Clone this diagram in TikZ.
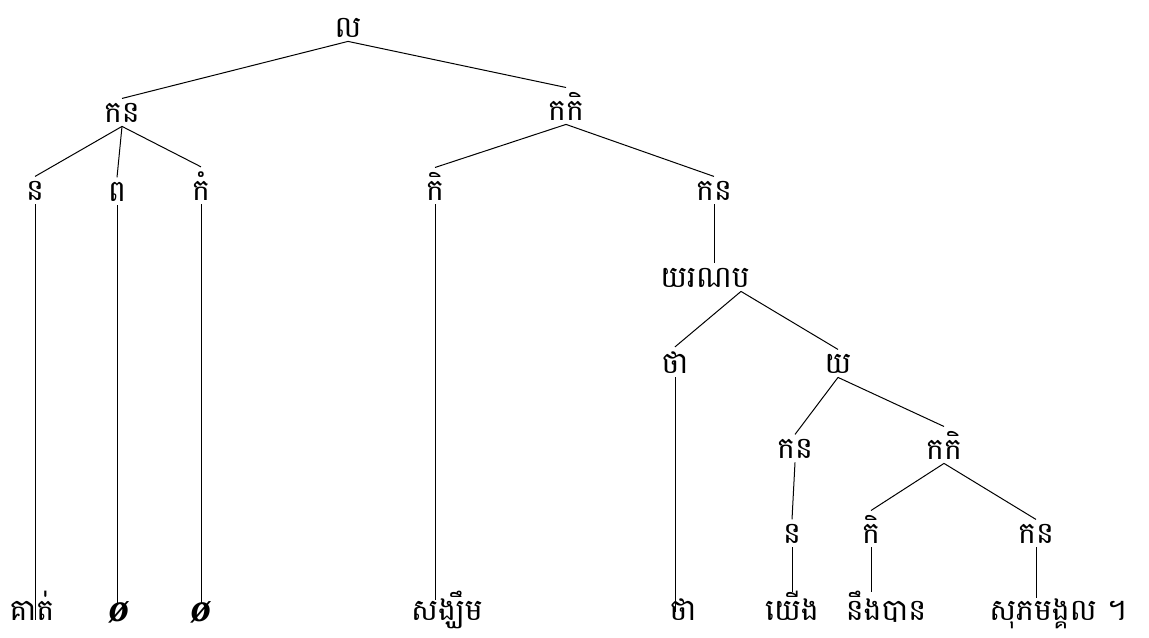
\documentclass[tikz,border=0pt]{standalone}
\usepackage{fontspec}
\newfontfamily\khmerfont[Script=Khmer]{Battambang}
\newfontfamily\zerofont{Liberation Serif}
\usetikzlibrary{calc}
\tikzstyle{cat}=[font=\khmerfont\fontsize{15}{18}\selectfont,anchor=base,inner sep=2pt]
\tikzstyle{word}=[cat,inner sep=0pt]
\tikzstyle{null}=[font=\zerofont\fontsize{20}{20}\selectfont\bfseries\itshape,anchor=base,inner sep=0pt]
\tikzstyle{branch}=[draw,line width=0.5pt]

\begin{document}
\begin{tikzpicture}[x=0.5pt,y=-0.5pt]
    \useasboundingbox (0,0) rectangle (1149,637);
    % category labels
    \foreach \pos/\name/\txt in {{(348,37)/s/ល}, {(122,122)/np1/កន},
    {(566,120)/vp1/កកិ}, {(35,200)/n1/ន}, {(117,201)/d1/ព}, {(201,200)/dm1/កំ},
    {(435,200)/v1/កិ}, {(714,200)/np2/កន}, {(705,287)/cp/យរណប},
    {(675,373)/c1/ថា}, {(838,373)/s2/យ}, {(795,458)/np3/កន},
    {(944,459)/vp2/កកិ}, {(792,543)/n2/ន}, {(871,543)/v2/កិ},
    {(1036,543)/np4/កន}}
        \node[cat] (\name) at \pos {\txt};

    % words
    \foreach \pos/\name/\txt in {{(32,620)/w1/គាត់}, {(447,620)/w4/សង្ឃឹម},
    {(683,620)/w5/ថា}, {(792,620)/w6/យើង}, {(886,620)/w7/នឹងបាន},
    {(1058,620)/w8/សុភមង្គល ។}}
        \node[word] (\name) at \pos {\txt};
    \node[null] (w2) at (119,621) {ø};
    \node[null] (w3) at (201,621) {ø};

    \foreach \source/\dest in {s/np1,s/vp1,np1/n1,np1/d1,np1/dm1,vp1/v1,
    vp1/np2,s2/np3,s2/vp2,np3/n2,vp2/v2,vp2/np4}
        \path[branch] (\source.south) -- (\dest.north);
    \path[branch] (np2.south) -- (np2.south |- cp.north);
    \foreach \dest in {c1,s2}
        \path[branch] ($(cp.south)+(36,0)$) -- (\dest.north);

    % down to the words
    \foreach \source/\dest/\dy in {n1/w1/30,d1/w2/2,dm1/w3/2,v1/w4/10,
    c1/w5/14,n2/w6/2,v2/w7/2,np4/w8/0}
        \path[branch] (\source.south) -- ($(\source.south |- \dest.north)+(0,\dy)$);
\end{tikzpicture}
\end{document}
